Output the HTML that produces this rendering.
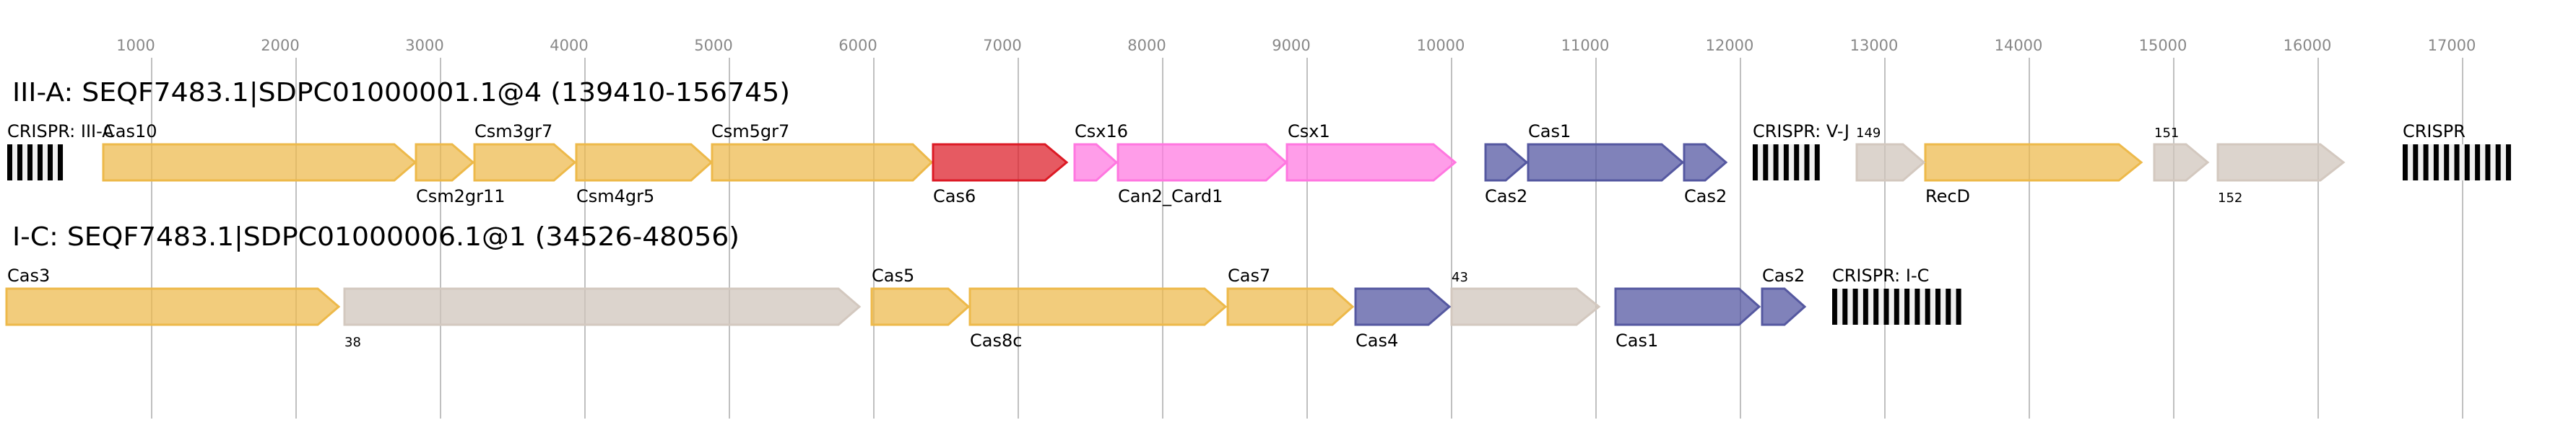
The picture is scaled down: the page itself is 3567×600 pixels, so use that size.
<!DOCTYPE html>
<html><head><meta charset="utf-8"><style>body{margin:0;background:#fff}svg{display:block}</style></head>
<body>
<svg width="3567" height="600" xmlns="http://www.w3.org/2000/svg" font-family="DejaVu Sans, Liberation Sans, sans-serif">
<defs>
<pattern id="p1" patternUnits="userSpaceOnUse" x="10" y="0" width="14" height="10"><rect width="14" height="10" fill="#f0f0f0"/><rect width="7" height="10" fill="#000"/></pattern>
<pattern id="p2" patternUnits="userSpaceOnUse" x="2427" y="0" width="14.3" height="10"><rect width="14.3" height="10" fill="#f0f0f0"/><rect width="7" height="10" fill="#000"/></pattern>
<pattern id="p3" patternUnits="userSpaceOnUse" x="3327" y="0" width="14.3" height="10"><rect width="14.3" height="10" fill="#f0f0f0"/><rect width="7" height="10" fill="#000"/></pattern>
<pattern id="p4" patternUnits="userSpaceOnUse" x="2537" y="0" width="14.3" height="10"><rect width="14.3" height="10" fill="#f0f0f0"/><rect width="7" height="10" fill="#000"/></pattern>
</defs>
<g stroke="#c0c0c0" stroke-width="2">
<line x1="210" y1="80" x2="210" y2="580"/><line x1="410" y1="80" x2="410" y2="580"/><line x1="610" y1="80" x2="610" y2="580"/><line x1="810" y1="80" x2="810" y2="580"/><line x1="1010" y1="80" x2="1010" y2="580"/><line x1="1210" y1="80" x2="1210" y2="580"/><line x1="1410" y1="80" x2="1410" y2="580"/><line x1="1610" y1="80" x2="1610" y2="580"/><line x1="1810" y1="80" x2="1810" y2="580"/><line x1="2010" y1="80" x2="2010" y2="580"/><line x1="2210" y1="80" x2="2210" y2="580"/><line x1="2410" y1="80" x2="2410" y2="580"/><line x1="2610" y1="80" x2="2610" y2="580"/><line x1="2810" y1="80" x2="2810" y2="580"/><line x1="3010" y1="80" x2="3010" y2="580"/><line x1="3210" y1="80" x2="3210" y2="580"/><line x1="3410" y1="80" x2="3410" y2="580"/>
</g>
<g fill="#888" font-size="21" text-anchor="middle">
<text x="188" y="70">1000</text><text x="388" y="70">2000</text><text x="588" y="70">3000</text><text x="788" y="70">4000</text><text x="988" y="70">5000</text><text x="1188" y="70">6000</text><text x="1388" y="70">7000</text><text x="1588" y="70">8000</text><text x="1788" y="70">9000</text><text x="1995" y="70">10000</text><text x="2195" y="70">11000</text><text x="2395" y="70">12000</text><text x="2595" y="70">13000</text><text x="2795" y="70">14000</text><text x="2995" y="70">15000</text><text x="3195" y="70">16000</text><text x="3395" y="70">17000</text>
</g>
<text x="17" y="140" font-size="36" textLength="1077" lengthAdjust="spacingAndGlyphs">III-A: SEQF7483.1|SDPC01000001.1@4 (139410-156745)</text>
<text x="17" y="340" font-size="36" textLength="1007" lengthAdjust="spacingAndGlyphs">I-C: SEQF7483.1|SDPC01000006.1@1 (34526-48056)</text>
<g stroke-width="3" fill-opacity="0.72">
<!-- row1 -->
<g fill="#edb94a" stroke="#edb94a">
<polygon points="143,200 546,200 575,225 546,250 143,250"/>
<polygon points="576,200 626,200 655,225 626,250 576,250"/>
<polygon points="657,200 767,200 796,225 767,250 657,250"/>
<polygon points="798,200 957,200 985,225 957,250 798,250"/>
<polygon points="986,200 1264,200 1290,225 1264,250 986,250"/>
<polygon points="2666,200 2934,200 2965,225 2934,250 2666,250"/>
</g>
<polygon fill="#dc1a25" stroke="#dc1a25" points="1292,200 1447,200 1477,225 1447,250 1292,250"/>
<g fill="#ff77e0" stroke="#ff77e0">
<polygon points="1488,200 1518,200 1546,225 1518,250 1488,250"/>
<polygon points="1548,200 1753,200 1781,225 1753,250 1548,250"/>
<polygon points="1782,200 1985,200 2015,225 1985,250 1782,250"/>
</g>
<g fill="#4f52a0" stroke="#5558a0">
<polygon points="2057,200 2085,200 2114,225 2085,250 2057,250"/>
<polygon points="2116,200 2301,200 2330,225 2301,250 2116,250"/>
<polygon points="2332,200 2361,200 2390,225 2361,250 2332,250"/>
</g>
<g fill="#cfc3ba" stroke="#d3c8bf">
<polygon points="2571,200 2635,200 2664,225 2635,250 2571,250"/>
<polygon points="2983,200 3027,200 3057,225 3027,250 2983,250"/>
<polygon points="3071,200 3213,200 3245,225 3213,250 3071,250"/>
</g>
<!-- row2 -->
<g fill="#edb94a" stroke="#edb94a">
<polygon points="9,400 440,400 469,425 440,450 9,450"/>
<polygon points="1207,400 1313,400 1341,425 1313,450 1207,450"/>
<polygon points="1343,400 1668,400 1697,425 1668,450 1343,450"/>
<polygon points="1700,400 1845,400 1873,425 1845,450 1700,450"/>
</g>
<g fill="#cfc3ba" stroke="#d3c8bf">
<polygon points="477,400 1161,400 1190,425 1161,450 477,450"/>
<polygon points="2010,400 2183,400 2214,425 2183,450 2010,450"/>
</g>
<g fill="#4f52a0" stroke="#5558a0">
<polygon points="1877,400 1978,400 2007,425 1978,450 1877,450"/>
<polygon points="2237,400 2408,400 2436,425 2408,450 2237,450"/>
<polygon points="2440,400 2471,400 2499,425 2471,450 2440,450"/>
</g>
</g>
<rect x="10" y="200" width="78" height="50" fill="url(#p1)"/>
<rect x="2427" y="200" width="93" height="50" fill="url(#p2)"/>
<rect x="3327" y="200" width="150" height="50" fill="url(#p3)"/>
<rect x="2537" y="400" width="179" height="50" fill="url(#p4)"/>
<g font-size="24" fill="#000">
<text x="10" y="190">CRISPR: III-A</text>
<text x="143" y="190">Cas10</text>
<text x="657" y="190">Csm3gr7</text>
<text x="985" y="190">Csm5gr7</text>
<text x="1488" y="190">Csx16</text>
<text x="1783" y="190">Csx1</text>
<text x="2116" y="190">Cas1</text>
<text x="2427" y="190">CRISPR: V-J</text>
<text x="3327" y="190">CRISPR</text>
<text x="576" y="280">Csm2gr11</text>
<text x="798" y="280">Csm4gr5</text>
<text x="1292" y="280">Cas6</text>
<text x="1548" y="280">Can2_Card1</text>
<text x="2056" y="280">Cas2</text>
<text x="2332" y="280">Cas2</text>
<text x="2666" y="280">RecD</text>
<text x="10" y="390">Cas3</text>
<text x="1207" y="390">Cas5</text>
<text x="1700" y="390">Cas7</text>
<text x="2440" y="390">Cas2</text>
<text x="2537" y="390">CRISPR: I-C</text>
<text x="1343" y="480">Cas8c</text>
<text x="1877" y="480">Cas4</text>
<text x="2237" y="480">Cas1</text>
</g>
<g font-size="18" fill="#000">
<text x="2570" y="190">149</text>
<text x="2983" y="190">151</text>
<text x="3071" y="280">152</text>
<text x="477" y="480">38</text>
<text x="2010" y="390">43</text>
</g>
</svg>
</body></html>
